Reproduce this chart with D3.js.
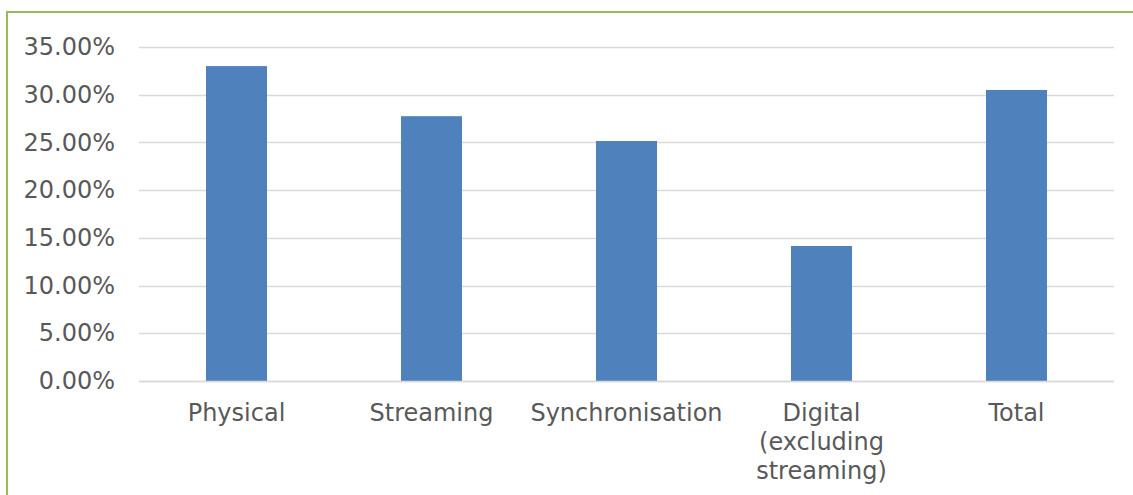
<!DOCTYPE html>
<html>
<head>
<meta charset="utf-8">
<script src="https://cdn.jsdelivr.net/npm/d3@7"></script>
<style>
  html, body { margin: 0; padding: 0; background: #fff; }
  svg { display: block; }
  text { font-family: "DejaVu Sans", Verdana, sans-serif; fill: #595959; }
</style>
</head>
<body>
<svg id="chart" width="1133" height="495"></svg>
<script>
// Share by revenue category
const categories = ["Physical", "Streaming", "Synchronisation", "Digital (excluding streaming)", "Total"];
const categoryLines = [["Physical"], ["Streaming"], ["Synchronisation"], ["Digital", "(excluding", "streaming)"], ["Total"]];
const values = [0.330, 0.2775, 0.2515, 0.1415, 0.305];
const tickValues = [0, 0.05, 0.10, 0.15, 0.20, 0.25, 0.30, 0.35];

const W = 1133, H = 495;
const margin = { left: 139, right: 19, top: 47, bottom: 114 };

const svg = d3.select("#chart");

// Chart frame
svg.append("rect")
  .attr("x", 7).attr("y", 12)
  .attr("width", W + 10).attr("height", H + 10)
  .attr("fill", "none")
  .attr("stroke", "#9bbb59")
  .attr("stroke-width", 2);

const x = d3.scaleBand()
  .domain(categories)
  .range([margin.left, W - margin.right])
  .paddingInner(0.687)
  .paddingOuter(0.3435);

const y = d3.scaleLinear()
  .domain([0, 0.35])
  .range([H - margin.bottom, margin.top]);

// Horizontal gridlines
svg.append("g")
  .selectAll("line")
  .data(tickValues)
  .join("line")
  .attr("x1", margin.left)
  .attr("x2", W - margin.right)
  .attr("y1", d => Math.round(y(d)) + 0.5)
  .attr("y2", d => Math.round(y(d)) + 0.5)
  .attr("stroke", "#d9d9d9")
  .attr("stroke-width", 1.5);

// Y axis labels
const yAxis = d3.axisLeft(y)
  .tickValues(tickValues)
  .tickFormat(d3.format(".2%"))
  .tickSize(0)
  .tickPadding(24);

svg.append("g")
  .attr("transform", `translate(${margin.left},0)`)
  .call(yAxis)
  .call(g => g.select(".domain").remove())
  .call(g => g.selectAll("text")
    .attr("font-size", 24)
    .attr("fill", "#595959")
    .style("font-family", "'DejaVu Sans', Verdana, sans-serif"));

// Bars
svg.append("g")
  .selectAll("rect")
  .data(categories)
  .join("rect")
  .attr("x", d => x(d))
  .attr("width", x.bandwidth())
  .attr("y", (d, i) => y(values[i]))
  .attr("height", (d, i) => y(0) - y(values[i]))
  .attr("fill", "#4f81bd");

// Baseline
svg.append("line")
  .attr("x1", margin.left)
  .attr("x2", W - margin.right)
  .attr("y1", Math.round(y(0)) + 0.5)
  .attr("y2", Math.round(y(0)) + 0.5)
  .attr("stroke", "#d9d9d9")
  .attr("stroke-width", 1.5);

// Category labels (wrapped)
const labels = svg.append("g")
  .selectAll("text")
  .data(categories)
  .join("text")
  .attr("text-anchor", "middle")
  .attr("font-size", 24)
  .attr("x", d => x(d) + x.bandwidth() / 2)
  .attr("y", y(0) + 40);

labels.each(function(d, i) {
  d3.select(this).selectAll("tspan")
    .data(categoryLines[i])
    .join("tspan")
    .attr("x", x(d) + x.bandwidth() / 2)
    .attr("dy", (t, j) => j === 0 ? 0 : 29)
    .text(t => t);
});
</script>
</body>
</html>
